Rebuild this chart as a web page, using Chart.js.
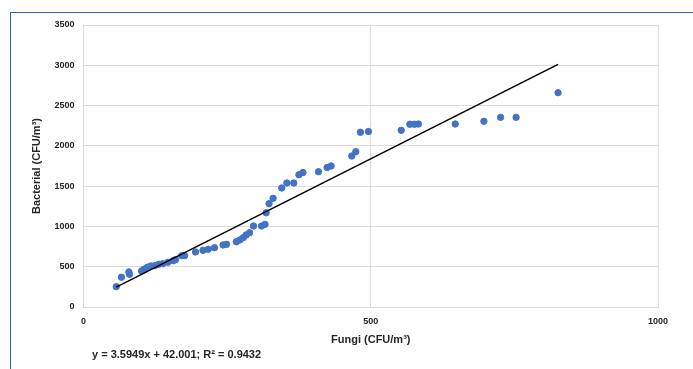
<!DOCTYPE html>
<html>
<head>
<meta charset="utf-8">
<script src="https://cdn.jsdelivr.net/npm/chart.js@4.4.1/dist/chart.umd.min.js"></script>
<style>
  body { margin:0; background:#fff; }
  #wrap { position:relative; width:693px; height:369px; overflow:hidden; }
  #frame { position:absolute; left:10px; top:12px; width:700px; height:400px;
           border-top:1px solid #2f58b5; border-left:1px solid #2f58b5; }
  #eq { position:absolute; left:92px; top:348px; font:bold 11px "Liberation Sans", sans-serif; color:#262626; white-space:nowrap; }
</style>
</head>
<body>
<div id="wrap">
  <div id="frame"></div>
  <canvas id="scatterChart" width="693" height="369"></canvas>
  <div id="eq">y = 3.5949x + 42.001; R² = 0.9432</div>
</div>
<script>
	// 讀圖估計的數據 (Fungi vs Bacterial)
	const fungi = [57,66,79,80,101,105,111,117,124,131,138,147,156,160,171,176,195,208,217,228,243,249,266,272,278,283,289,296,310,316,318,323,330,345,354,366,375,382,409,424,431,467,474,482,496,553,568,576,583,647,697,726,753,826] ;
	const bacterial = [252,369,435,405,447,468,493,509,513,530,537,555,575,587,637,637,683,704,716,736,770,778,810,832,860,894,922,1005,1005,1026,1170,1282,1349,1477,1539,1539,1642,1669,1679,1731,1750,1874,1927,2168,2178,2193,2268,2268,2271,2271,2305,2354,2354,2660] ;
	// 趨勢線 y = 3.5949x + 42.001
	const slope = 3.5949 , intercept = 42.001 ;
	const xTicks = [0,500,1000] ;
	const xMin = Math.min(...fungi) , xMax = Math.max(...fungi) ;

	let points = [] ;
	for (let i=0;i<fungi.length;i++) points.push({x:fungi[i], y:bacterial[i]});
	const trend = [ {x:xMin, y:slope*xMin+intercept}, {x:xMax, y:slope*xMax+intercept} ];

	const ctx = document.getElementById('scatterChart').getContext('2d');
	const tickFont = { family:'"Liberation Sans", sans-serif', size:9, weight:'bold' };
	const titleFont = { family:'"Liberation Sans", sans-serif', size:11, weight:'bold' };

	const chart = new Chart(ctx, {
		type: 'scatter',
		data: {
			datasets: [
				{
					label: 'data',
					data: points,
					backgroundColor: '#4472c4',
					borderColor: '#4472c4',
					pointRadius: 3.2,
					pointHoverRadius: 3.2,
					order: 2
				},
				{
					type: 'line',
					label: 'trend',
					data: trend,
					borderColor: '#000',
					borderWidth: 1.5,
					pointRadius: 0,
					fill: false,
					order: 1
				}
			]
		},
		options: {
			responsive: false,
			animation: false,
			layout: { padding: { left:26, right:35, top:25, bottom:18 } },
			plugins: { legend: { display:false }, tooltip: { enabled:false } },
			scales: {
				x: {
					type: 'linear',
					min: 0, max: 1000,
					afterBuildTicks: (s) => { s.ticks = xTicks.map(v => ({value:v})); },
					afterFit: (s) => { s.height = 44; },
					grid: { color: (c) => c.tick && c.tick.value === 0 ? 'rgba(0,0,0,0)' : '#dcdcdc', drawTicks:false },
					border: { color:'#dcdcdc' },
					ticks: { color:'#262626', font:tickFont, padding:9, maxRotation:0, callback: (v) => String(v) },
					title: { display:true, text:'Fungi (CFU/m³)', color:'#262626', font:titleFont }
				},
				y: {
					min: 0, max: 3500,
					afterFit: (s) => { s.width = 57.5; },
					grid: { color:'#dcdcdc', drawTicks:false },
					border: { color:'#dcdcdc' },
					ticks: { stepSize:500, color:'#262626', font:tickFont, padding:9, callback: (v) => String(v) },
					title: { display:true, text:'Bacterial (CFU/m³)', color:'#262626', font:titleFont }
				}
			}
		}
	});
	chart.update();
</script>
</body>
</html>
